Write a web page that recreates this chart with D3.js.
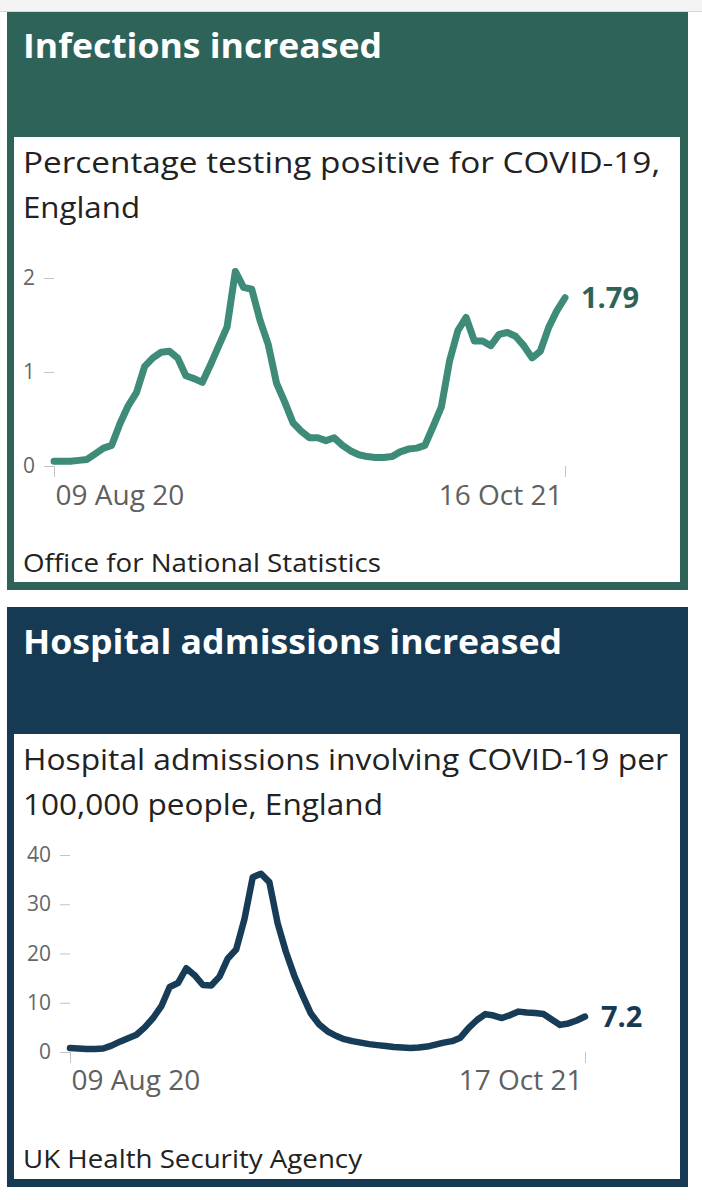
<!DOCTYPE html>
<html><head><meta charset="utf-8">
<script src="https://cdn.jsdelivr.net/npm/d3@7"></script>
<style>
body{margin:0;background:#fff;}
text{font-family:"Open Sans",sans-serif;}
</style>
</head><body>
<svg id="c" width="702" height="1200"></svg>
<script>
// ---------- data ----------
const infectionTitle = "Infections increased";
const infectionSubtitle = ["Percentage testing positive for COVID-19,", "England"];
const infectionSource = "Office for National Statistics";
const infectionDateLabels = ["09 Aug 20", "16 Oct 21"];
const infectionYTicks = [0, 1, 2];
const infectionValues = [
  0.05,0.05,0.05,0.06,0.07,0.13,0.19,0.22,0.45,0.64,
  0.78,1.06,1.15,1.21,1.22,1.15,0.96,0.93,0.89,1.08,
  1.28,1.48,2.07,1.90,1.88,1.55,1.29,0.88,0.68,0.46,
  0.37,0.30,0.30,0.27,0.30,0.22,0.16,0.12,0.10,0.09,
  0.09,0.10,0.15,0.18,0.19,0.22,0.42,0.63,1.12,1.44,
  1.58,1.33,1.33,1.28,1.40,1.42,1.38,1.28,1.15,1.22,
  1.47,1.65,1.79
];
const infectionLatest = "1.79";

const admissionTitle = "Hospital admissions increased";
const admissionSubtitle = ["Hospital admissions involving COVID-19 per", "100,000 people, England"];
const admissionSource = "UK Health Security Agency";
const admissionDateLabels = ["09 Aug 20", "17 Oct 21"];
const admissionYTicks = [0, 10, 20, 30, 40];
const admissionValues = [
  0.8,0.7,0.6,0.6,0.7,1.3,2.1,2.8,3.5,5.0,
  6.9,9.3,13.2,14.0,17.0,15.6,13.6,13.5,15.3,19.0,
  20.8,27.0,35.5,36.2,34.5,26.1,20.3,15.5,11.5,7.8,
  5.6,4.2,3.3,2.6,2.2,1.9,1.6,1.4,1.2,1.0,
  0.9,0.8,0.9,1.1,1.5,1.9,2.2,2.9,4.9,6.5,
  7.7,7.4,6.9,7.5,8.2,8.0,7.9,7.7,6.6,5.5,
  5.8,6.4,7.2
];
const admissionLatest = "7.2";

// ---------- layout ----------
const svg = d3.select("#c");
svg.append("rect").attr("x",0).attr("y",0).attr("width",702).attr("height",11).attr("fill","#f4f4f4");
svg.append("line").attr("x1",0).attr("x2",702).attr("y1",11.5).attr("y2",11.5).attr("stroke","#d8d8d8");

const panels = [
  {
    title: infectionTitle, subtitle: infectionSubtitle, source: infectionSource,
    values: infectionValues, dates: infectionDateLabels, yTicks: infectionYTicks, latest: infectionLatest,
    color: "#2e6359", line: "#3d8b78", label: "#2e6359", lineWidth: 7,
    top: 12, innerTop: 137, bottom: 590,
    titleY: 58, titleW: 359, subY: [173, 218], subW: [637, 117], srcY: 572, srcW: 358,
    x0: 54, x1: 565, yDomain: [0, 2], yRange: [466, 278], xLabelPad: 8
  },
  {
    title: admissionTitle, subtitle: admissionSubtitle, source: admissionSource,
    values: admissionValues, dates: admissionDateLabels, yTicks: admissionYTicks, latest: admissionLatest,
    color: "#163a54", line: "#173c58", label: "#163a54", lineWidth: 6.5,
    top: 607, innerTop: 734, bottom: 1187,
    titleY: 654, titleW: 539, subY: [770, 815], subW: [645, 360], srcY: 1168, srcW: 339,
    x0: 70, x1: 585, yDomain: [0, 40], yRange: [1052, 855], xLabelPad: 7
  }
];

panels.forEach(p => {
  const g = svg.append("g");
  g.append("rect").attr("x",7).attr("y",p.top).attr("width",681).attr("height",p.bottom-p.top).attr("fill",p.color);
  g.append("rect").attr("x",14).attr("y",p.innerTop).attr("width",666).attr("height",p.bottom-8-p.innerTop).attr("fill","#fff");

  g.append("text").attr("x",23).attr("y",p.titleY).text(p.title)
    .attr("fill","#fff").attr("font-weight",700).attr("font-size",34)
    .attr("textLength",p.titleW).attr("lengthAdjust","spacingAndGlyphs");

  p.subtitle.forEach((s,i) => {
    g.append("text").attr("x",23).attr("y",p.subY[i]).text(s)
      .attr("fill","#222").attr("font-size",29)
      .attr("textLength",p.subW[i]).attr("lengthAdjust","spacingAndGlyphs");
  });

  g.append("text").attr("x",23).attr("y",p.srcY).text(p.source)
    .attr("fill","#222").attr("font-size",26)
    .attr("textLength",p.srcW).attr("lengthAdjust","spacingAndGlyphs");

  const n = p.values.length;
  const x = d3.scaleLinear().domain([0, n-1]).range([p.x0, p.x1]);
  const y = d3.scaleLinear().domain(p.yDomain).range(p.yRange);

  const yAxis = g.append("g").attr("transform",`translate(${p.x0},0)`)
    .call(d3.axisLeft(y).tickValues(p.yTicks).tickSize(10).tickPadding(9).tickFormat(d3.format("d")));
  yAxis.select(".domain").remove();
  yAxis.selectAll("line").attr("stroke","#c4c4c4");
  yAxis.selectAll("text").attr("fill","#666").attr("font-size",21).attr("font-family","Open Sans");

  const xAxis = g.append("g").attr("transform",`translate(0,${y(0)})`)
    .call(d3.axisBottom(x).tickValues([0, n-1]).tickSize(11).tickPadding(p.xLabelPad)
      .tickFormat((d,i) => p.dates[i]));
  xAxis.select(".domain").remove();
  xAxis.selectAll("line").attr("stroke","#c4c4c4");
  xAxis.selectAll("text").attr("fill","#606060").attr("font-size",28).attr("font-family","Open Sans")
    .attr("text-anchor",(d,i) => i === 0 ? "start" : "end")
    .attr("dx",(d,i) => i === 0 ? 1 : -3);

  const line = d3.line().x((d,i) => x(i)).y(d => y(d));
  g.append("path").datum(p.values).attr("d",line)
    .attr("fill","none").attr("stroke",p.line).attr("stroke-width",p.lineWidth)
    .attr("stroke-linejoin","round").attr("stroke-linecap","round");

  g.append("text").attr("x",x(n-1)+16).attr("y",y(p.values[n-1])).attr("dy","0.35em")
    .text(p.latest).attr("fill",p.label).attr("font-weight",700).attr("font-size",29);
});
</script>
</body></html>
